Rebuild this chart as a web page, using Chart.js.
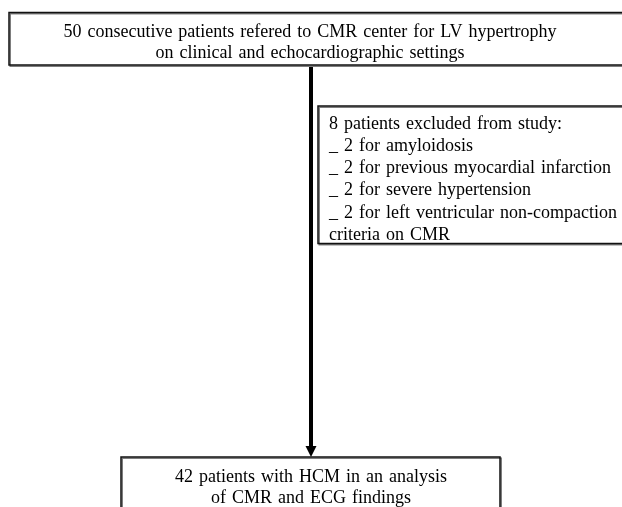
<!DOCTYPE html>
<html>
<head>
<meta charset="utf-8">
<script src="https://cdn.jsdelivr.net/npm/chart.js@4"></script>
<style>
  html, body { margin: 0; padding: 0; background: #fff; }
  #flow { display: block; }
</style>
</head>
<body>
<canvas id="flow" width="622" height="507"></canvas>
<script>
// flow counts
const stages = ['referred', 'excluded', 'included'];
const stageCounts = [50, 8, 42];
const exclusionReasons = ['amyloidosis', 'previous myocardial infarction', 'severe hypertension', 'left ventricular non-compaction criteria on CMR'];
const exclusionCounts = [2, 2, 2, 2];

const FONT = '18px "Liberation Serif", "Times New Roman", serif';

function wrapText(ctx, text, maxW) {
    const words = text.split(' ');
    const lines = [];
    let cur = '';
    words.forEach(w => {
        const test = cur ? cur + ' ' + w : w;
        if (ctx.measureText(test).width > maxW && cur) { lines.push(cur); cur = w; }
        else cur = test;
    });
    if (cur) lines.push(cur);
    return lines;
}

// draws the boxes and arrow in scale units (0..622 x, 0..507 y)
const flowPlugin = {
    id: 'flow',
    afterDraw(chart) {
        const ctx = chart.ctx;
        const sx = v => chart.scales.x.getPixelForValue(v);
        const sy = v => chart.scales.y.getPixelForValue(v);

        function box(x0, y0, x1, y1) {
            ctx.save();
            ctx.strokeStyle = '#777';
            ctx.lineWidth = 1.5;
            ctx.strokeRect(sx(x0) + 1.2, sy(y0) + 1.2, sx(x1) - sx(x0), sy(y1) - sy(y0));
            ctx.strokeStyle = '#111';
            ctx.strokeRect(sx(x0), sy(y0), sx(x1) - sx(x0), sy(y1) - sy(y0));
            ctx.restore();
        }

        ctx.save();
        ctx.font = FONT;
        ctx.fillStyle = '#000';
        ctx.textBaseline = 'middle';
        try { ctx.wordSpacing = '1.5px'; } catch (e) {}

        // top box
        box(9, 12.5, 640, 65);
        ctx.textAlign = 'center';
        const topLines = [
            `${stageCounts[0]} consecutive patients refered to CMR center for LV hypertrophy`,
            'on clinical and echocardiographic settings'
        ];
        topLines.forEach((t, i) => ctx.fillText(t, sx(310), sy(32.5 + i * 21)));

        // arrow
        ctx.fillStyle = '#000';
        ctx.fillRect(sx(309), sy(67), 4, sy(447) - sy(67));
        ctx.beginPath();
        ctx.moveTo(sx(305.5), sy(446));
        ctx.lineTo(sx(316.5), sy(446));
        ctx.lineTo(sx(311), sy(457));
        ctx.closePath();
        ctx.fill();

        // exclusion box
        box(318, 106, 640, 243.5);
        ctx.textAlign = 'left';
        let exLines = [`${stageCounts[1]} patients excluded from study:`];
        exclusionReasons.forEach((r, i) => {
            exLines = exLines.concat(wrapText(ctx, `_ ${exclusionCounts[i]} for ${r}`, 292));
        });
        exLines.forEach((t, i) => ctx.fillText(t, sx(329), sy(124 + i * 22.2)));

        // bottom box
        box(121, 457, 500, 540);
        ctx.textAlign = 'center';
        const botLines = [
            `${stageCounts[2]} patients with HCM in an analysis`,
            'of CMR and ECG findings'
        ];
        botLines.forEach((t, i) => ctx.fillText(t, sx(311), sy(477 + i * 21.5)));
        ctx.restore();
    }
};

new Chart(document.getElementById('flow'), {
    type: 'scatter',
    data: { labels: stages, datasets: [{ data: [], showLine: false }] },
    options: {
        responsive: false,
        animation: false,
        layout: { padding: 0 },
        plugins: { legend: { display: false }, tooltip: { enabled: false } },
        scales: {
            x: { type: 'linear', min: 0, max: 622, display: false },
            y: { type: 'linear', min: 0, max: 507, reverse: true, display: false }
        }
    },
    plugins: [flowPlugin]
});
</script>
</body>
</html>
